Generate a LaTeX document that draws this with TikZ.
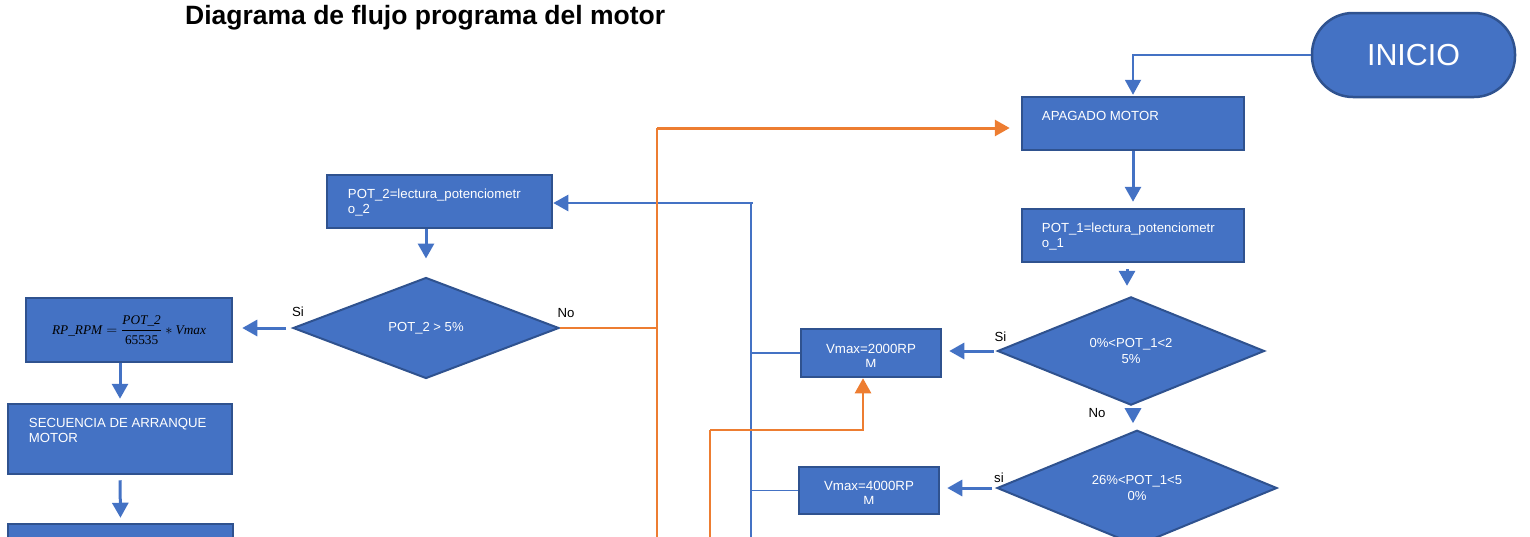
\documentclass[tikz,border=0pt]{standalone}
\usepackage{fontspec}
\setmainfont{Liberation Sans}
\newfontfamily\formfont{Liberation Serif}
\usepackage{tikz}
\usetikzlibrary{arrows.meta, positioning, shapes.geometric, calc}
\definecolor{boxblue}{HTML}{4472C4}
\definecolor{boxline}{HTML}{2F528F}
\definecolor{lineblue}{HTML}{4472C4}
\definecolor{lineorange}{HTML}{ED7D31}
\newcommand{\fvar}[1]{\mbox{\formfont\itshape #1}}

\begin{document}
\begin{tikzpicture}[
   x=1pt, y=-1pt, >={Triangle[length=15pt, width=16pt]},
   font=\fontsize{13.2}{15}\selectfont,
   proc/.style = {rectangle, draw=boxline, line width=2.5pt, fill=boxblue,
                  text=white, inner sep=0pt},
   decision/.style = {diamond, draw=boxline, line width=2pt, fill=boxblue, text=white,
                      align=center, inner sep=0pt, font=\fontsize{13.1}{16}\selectfont},
   terminal/.style = {rectangle, rounded corners=41pt, draw=boxline, line width=2.5pt,
                      fill=boxblue, text=white, font=\fontsize{30.4}{36}\selectfont},
   boxtext/.style = {anchor=north west, inner sep=0pt, text=white, align=left},
   lbl/.style = {inner sep=0pt, font=\fontsize{13.2}{16}\selectfont},
   flow/.style = {->, lineblue, line width=3pt},
   link/.style = {lineblue, line width=1.4pt},
   oflow/.style = {->, lineorange, line width=3pt},
   olink/.style = {lineorange, line width=1.5pt}]
  \clip (0,0) rectangle (1530,536);

  \node[anchor=base west, inner sep=0pt, font=\fontsize{26.5}{30}\selectfont\bfseries]
       (title) at (185,24) {Diagrama de flujo programa del motor};

  % right column
  \node[terminal, minimum width=203pt, minimum height=84pt] (inicio) at (1413.5,55) {INICIO};
  \node[proc, minimum width=222pt, minimum height=53pt] (apagado) at (1133,123.5) {};
  \node[boxtext] (apagadotxt) at ([shift={(21,15)}]apagado.north west) {APAGADO MOTOR};
  \node[proc, minimum width=222pt, minimum height=53pt] (pot1) at (1133,235.5) {};
  \node[boxtext] (pot1txt) at ([shift={(21,15)}]pot1.north west) {POT\_1=lectura\_potenciometr\\o\_1};
  \node[decision, minimum width=267pt, minimum height=99pt] (dec1) at (1131,351) {0\%<POT\_1<2\\5\%};
  \node[decision, minimum width=280pt, minimum height=100pt] (dec2) at (1137,488) {26\%<POT\_1<5\\0\%};
  \node[proc, minimum width=140pt, minimum height=48pt] (v2000) at (871,353) {};
  \node[proc, minimum width=140pt, minimum height=47pt] (v4000) at (869,490.5) {};
  \begin{scope}
    \clip (v2000.north west) rectangle ([yshift=12pt]v2000.south east);
    \node[inner sep=0pt, text=white, align=center, font=\fontsize{13.3}{15}\selectfont]
         (v2000txt) at ([shift={(0,3)}]v2000.center) {Vmax=2000RP\\M};
  \end{scope}
  \begin{scope}
    \clip (v4000.north west) rectangle ([yshift=12pt]v4000.south east);
    \node[inner sep=0pt, text=white, align=center, font=\fontsize{13.3}{15}\selectfont]
         (v4000txt) at ([shift={(0,3)}]v4000.center) {Vmax=4000RP\\M};
  \end{scope}

  % left column
  \node[proc, minimum width=225pt, minimum height=53pt] (pot2) at (439.5,201.5) {};
  \node[boxtext] (pot2txt) at ([shift={(22,15)}]pot2.north west) {POT\_2=lectura\_potenciometr\\o\_2};
  \node[decision, minimum width=266pt, minimum height=101pt] (dec0) at (426,328) {POT\_2 > 5\%};
  \node[proc, minimum width=206pt, minimum height=64pt, text=black, font=\fontsize{13.3}{16}\selectfont]
       (rprpm) at (129,330) {$\fvar{RP\_RPM}=\displaystyle\frac{\fvar{POT\_2}}{\mbox{\formfont 65535}}*\fvar{Vmax}$};
  \node[proc, minimum width=224pt, minimum height=70pt] (secuencia) at (120,439) {};
  \node[boxtext] (secuenciatxt) at ([shift={(22,15)}]secuencia.north west) {SECUENCIA DE ARRANQUE\\MOTOR};
  \node[proc, minimum width=225pt, minimum height=53pt] (motor) at (120.5,550.5) {};

  % labels
  \node[lbl] (si0) at ([shift={(6,-16)}]dec0.west) {Si};
  \node[lbl] (no0) at ([shift={(6,-15)}]dec0.east) {No};
  \node[lbl] (si1) at ([shift={(4,-14)}]dec1.west) {Si};
  \node[lbl] (no1) at ([shift={(-34,7)}]dec1.south) {No};
  \node[lbl] (si2) at ([shift={(3,-10)}]dec2.west) {si};

  % blue flow
  \draw[flow, line width=2pt, shorten >=1pt] (inicio.west) -| (apagado.north);
  \draw[flow, shorten >=6pt] (apagado.south) -- (pot1.north);
  \draw[flow, shorten <=6pt, shorten >=10pt] ([xshift=-6pt]pot1.south) -- ([xshift=-6pt]pot1.south |- dec1.north);
  \draw[flow, shorten <=3pt, shorten >=7pt] (dec1.west) -- (dec1.west -| v2000.east);
  \draw[flow, shorten <=4pt, shorten >=6pt] ([xshift=2pt]dec1.south) -- ([xshift=2pt]dec1.south |- dec2.north);
  \draw[flow, shorten <=4pt, shorten >=7pt] (dec2.west) -- (dec2.west -| v4000.east);
  \draw[flow, shorten <=6pt, shorten >=9pt] (dec0.west) -- (dec0.west -| rprpm.east);
  \draw[flow, shorten >=18pt] (dec0.north |- pot2.south) -- (dec0.north);
  \draw[flow, shorten >=4pt] (secuencia.north |- rprpm.south) -- (secuencia.north);
  \draw[flow, shorten <=5pt, shorten >=5pt] (secuencia.south) -- (motor.north);

  % blue return line
  \coordinate (bustop) at (751,203);
  \coordinate (busbot) at (751,540);
  \draw[link] (busbot) -- (bustop);
  \draw[flow, line width=2.5pt] ([xshift=2pt]bustop) -- (bustop -| pot2.east);
  \draw[link] (v2000.west) -- (v2000.west -| bustop);
  \draw[link] (v4000.west) -- (v4000.west -| bustop);

  % orange lines
  \coordinate (ocol) at (657,128);
  \coordinate (ocolbot) at (657,540);
  \draw[olink] (dec0.east) -- (dec0.east -| ocol);
  \draw[olink] (ocolbot) -- (ocol);
  \draw[oflow, shorten >=11pt] (ocol) -- (ocol -| apagado.west);
  \coordinate (oturn) at (710,430);
  \coordinate (oturnbot) at (710,540);
  \draw[olink] (oturnbot) -- (oturn);
  \draw[oflow, line width=2.5pt] (oturn) -| ([xshift=-8pt]v2000.south);
\end{tikzpicture}
\end{document}
